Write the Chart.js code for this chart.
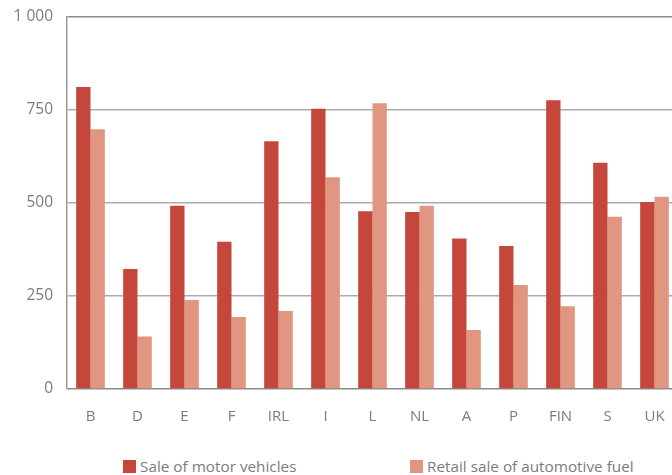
<!DOCTYPE html>
<html>
<head>
<meta charset="utf-8">
<script src="https://cdn.jsdelivr.net/npm/chart.js@4.4.1/dist/chart.umd.min.js"></script>
<style>
  html, body { margin: 0; padding: 0; background: #fff; overflow: hidden; }
  #wrap { position: relative; width: 672px; height: 475px; overflow: hidden; }
  #box { position: absolute; left: 0; top: -7px; width: 678px; height: 444px; }
  .leg { position: absolute; top: 456px; font-family: "Open Sans", sans-serif; font-size: 15.3px; color: #7c7c7c; display: flex; align-items: center; }
  .leg span.sw { display: inline-block; width: 13px; height: 13px; margin-right: 4px; }
</style>
</head>
<body>
<div id="wrap">
  <div id="box"><canvas id="chart"></canvas></div>
  <div class="leg" id="leg1" style="left:123px"></div>
  <div class="leg" id="leg2" style="left:410px"></div>
</div>
<script>
const categories = ["B", "D", "E", "F", "IRL", "I", "L", "NL", "A", "P", "FIN", "S", "UK"];
const motorVehicles = [810, 322, 492, 395, 665, 752, 477, 475, 404, 384, 775, 607, 502];
const automotiveFuel = [697, 141, 239, 193, 209, 568, 767, 492, 158, 279, 222, 462, 516];
const seriesNames = ["Sale of motor vehicles", "Retail sale of automotive fuel"];
const seriesColors = ["#c5463b", "#e19682"];
const yTicks = [0, 250, 500, 750, 1000];

const ctx = document.getElementById("chart");

new Chart(ctx, {
    type: "bar",
    data: {
        labels: categories,
        datasets: [
            {
                label: seriesNames[0],
                data: motorVehicles,
                backgroundColor: seriesColors[0],
                barPercentage: 1,
                categoryPercentage: 0.61,
            },
            {
                label: seriesNames[1],
                data: automotiveFuel,
                backgroundColor: seriesColors[1],
                barPercentage: 1,
                categoryPercentage: 0.61,
            },
        ],
    },
    options: {
        responsive: true,
        maintainAspectRatio: false,
        animation: false,
        layout: { padding: { top: 1, right: 0, bottom: 0, left: 0 } },
        plugins: {
            legend: { display: false },
            tooltip: { enabled: false },
        },
        scales: {
            x: {
                grid: { display: false },
                border: { display: false },
                ticks: {
                    color: "#7c7c7c",
                    font: { family: "Open Sans", size: 15 },
                    padding: 11,
                },
            },
            y: {
                min: 0,
                max: 1000,
                afterBuildTicks: (scale) => {
                    scale.ticks = yTicks.map((v) => ({ value: v }));
                },
                afterFit: (scale) => {
                    scale.width = 67;
                },
                grid: {
                    color: (c) => (c.tick && (c.tick.value === 0 || c.tick.value === 1000) ? "#8a8a8a" : "#acacac"),
                    lineWidth: 1.5,
                    drawTicks: false,
                },
                border: { display: true, color: "#9a9a9a", width: 1.5 },
                ticks: {
                    color: "#7c7c7c",
                    font: { family: "Open Sans", size: 15.5 },
                    padding: 14,
                    callback: (v) => String(v).replace(/\B(?=(\d{3})+(?!\d))/g, " "),
                },
            },
        },
    },
});

// legend
["leg1", "leg2"].forEach((id, i) => {
    const el = document.getElementById(id);
    const sw = document.createElement("span");
    sw.className = "sw";
    sw.style.background = seriesColors[i];
    el.appendChild(sw);
    el.appendChild(document.createTextNode(seriesNames[i]));
});
</script>
</body>
</html>
